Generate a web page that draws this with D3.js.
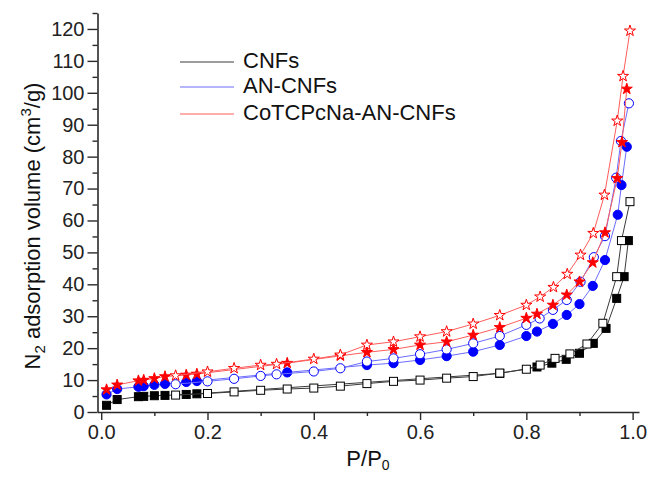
<!DOCTYPE html>
<html>
<head>
<meta charset="utf-8">
<script src="https://cdn.jsdelivr.net/npm/d3@7"></script>
<style>
  html, body { margin: 0; padding: 0; background: #fff; }
  svg { display: block; font-family: "Liberation Sans", Arial, sans-serif; }
</style>
</head>
<body>
<svg id="chart" width="649" height="477"></svg>
<script>
// ---------- data (P/P0, volume cm3/g) ----------
const seriesNames = ["CNFs", "AN-CNFs", "CoTCPcNa-AN-CNFs"];

const cnfFilledP = [0.01, 0.03, 0.07, 0.08, 0.10, 0.12, 0.16, 0.18, 0.75, 0.82, 0.848, 0.875, 0.90, 0.926, 0.95, 0.97, 0.984, 0.992];
const cnfFilledV = [2.1, 3.9, 4.8, 4.9, 5.1, 5.2, 5.5, 5.7, 12.1, 14.1, 15.3, 16.5, 18.4, 21.5, 26.2, 35.6, 42.4, 53.7];
const cnfOpenP = [0.14, 0.20, 0.25, 0.30, 0.35, 0.40, 0.45, 0.50, 0.55, 0.60, 0.65, 0.70, 0.75, 0.80, 0.826, 0.854, 0.882, 0.914, 0.944, 0.970, 0.979, 0.995];
const cnfOpenV = [5.3, 5.8, 6.3, 6.8, 7.2, 7.5, 8.1, 8.9, 9.6, 10.0, 10.6, 11.1, 12.2, 13.4, 14.7, 16.8, 18.2, 21.3, 27.8, 42.4, 53.7, 65.9];

const anFilledP = [0.01, 0.03, 0.07, 0.08, 0.10, 0.12, 0.16, 0.18, 0.35, 0.50, 0.55, 0.60, 0.65, 0.70, 0.75, 0.80, 0.82, 0.85, 0.876, 0.90, 0.925, 0.948, 0.972, 0.979, 0.989];
const anFilledV = [5.5, 7.2, 7.9, 8.1, 8.5, 8.8, 9.4, 9.7, 12.4, 14.7, 15.3, 16.3, 17.5, 18.9, 21.0, 23.8, 25.2, 27.6, 30.4, 33.8, 39.5, 47.6, 61.8, 71.1, 83.1];
const anOpenP = [0.14, 0.20, 0.25, 0.30, 0.33, 0.40, 0.45, 0.50, 0.55, 0.60, 0.65, 0.70, 0.75, 0.80, 0.825, 0.85, 0.876, 0.902, 0.927, 0.948, 0.969, 0.978, 0.993];
const anOpenV = [8.7, 9.6, 10.4, 11.3, 11.8, 12.7, 13.7, 15.8, 16.8, 18.1, 19.6, 21.5, 23.8, 27.3, 29.3, 32.0, 35.1, 40.8, 48.5, 55.1, 73.4, 84.9, 96.7];

const coFilledP = [0.01, 0.03, 0.07, 0.08, 0.10, 0.12, 0.16, 0.18, 0.35, 0.45, 0.50, 0.55, 0.60, 0.65, 0.70, 0.75, 0.80, 0.82, 0.85, 0.876, 0.90, 0.925, 0.948, 0.971, 0.980, 0.989];
const coFilledV = [7.0, 8.5, 9.8, 10.0, 10.5, 11.1, 11.6, 11.9, 15.3, 17.6, 18.7, 19.6, 21.0, 22.0, 24.1, 26.5, 29.4, 30.7, 33.5, 36.7, 40.8, 46.8, 56.2, 73.2, 84.5, 101.2];
const coOpenP = [0.14, 0.20, 0.25, 0.30, 0.33, 0.40, 0.45, 0.50, 0.55, 0.60, 0.65, 0.70, 0.75, 0.80, 0.826, 0.851, 0.877, 0.902, 0.926, 0.947, 0.971, 0.982, 0.995];
const coOpenV = [11.4, 12.6, 13.7, 14.7, 15.0, 16.6, 17.9, 21.0, 22.0, 23.6, 25.2, 27.6, 30.3, 33.5, 36.1, 39.1, 43.2, 49.2, 56.0, 68.0, 91.2, 105.2, 119.4];

const xMajorTicks = [0.0, 0.2, 0.4, 0.6, 0.8, 1.0];
const xMinorTicks = [0.1, 0.3, 0.5, 0.7, 0.9];
const yMajorTicks = [0, 10, 20, 30, 40, 50, 60, 70, 80, 90, 100, 110, 120];
const yMinorTicks = [5, 15, 25, 35, 45, 55, 65, 75, 85, 95, 105, 115, 125];

// ---------- build ----------
const zip = (ps, vs) => ps.map((p, i) => ({ p, v: vs[i] }));
const groups = [
  { name: seriesNames[0], shape: "square", filled: zip(cnfFilledP, cnfFilledV), open: zip(cnfOpenP, cnfOpenV), color: "#000000", line: "#3a3a3a" },
  { name: seriesNames[1], shape: "circle", filled: zip(anFilledP, anFilledV), open: zip(anOpenP, anOpenV), color: "#0000ff", line: "#6c6cff" },
  { name: seriesNames[2], shape: "star", filled: zip(coFilledP, coFilledV), open: zip(coOpenP, coOpenV), color: "#ff0000", line: "#ff5c5c" }
];

const svg = d3.select("#chart");
const x = d3.scaleLinear().domain([-0.007, 1.012]).range([97.5, 639]);
const y = d3.scaleLinear().domain([0, 125]).range([412, 13]);

const axisColor = "#2a2a2a";
const fontSize = 20;

// x axis
const gx = svg.append("g").attr("transform", `translate(0,${y(0)})`);
gx.call(d3.axisBottom(x).tickValues(xMajorTicks).tickSize(8).tickSizeOuter(0).tickPadding(5).tickFormat(d3.format(".1f")));
const gxm = svg.append("g").attr("transform", `translate(0,${y(0)})`);
gxm.call(d3.axisBottom(x).tickValues(xMinorTicks).tickSize(4).tickSizeOuter(0).tickFormat(""));
gxm.select(".domain").remove();

// y axis
const gy = svg.append("g").attr("transform", `translate(${x.range()[0]},0)`);
gy.call(d3.axisLeft(y).tickValues(yMajorTicks).tickSize(10).tickSizeOuter(0).tickPadding(3).tickFormat(d3.format("d")));
const gym = svg.append("g").attr("transform", `translate(${x.range()[0]},0)`);
gym.call(d3.axisLeft(y).tickValues(yMinorTicks).tickSize(5).tickSizeOuter(0).tickFormat(""));
gym.select(".domain").remove();

[gx, gxm, gy, gym].forEach(g => {
  g.selectAll("path.domain").attr("stroke", axisColor).attr("stroke-width", 1.6);
  g.selectAll(".tick line").attr("stroke", axisColor).attr("stroke-width", 1.4);
  g.selectAll(".tick text").attr("fill", "#222").style("font-size", fontSize + "px")
    .style("font-family", '"Liberation Sans", Arial, sans-serif');
});

// series
const line = d3.line().x(d => x(d.p)).y(d => y(d.v));
const star = d3.symbol().type(d3.symbolStar).size(38);

function drawMarkers(g, data, shape, fill, stroke) {
  const sel = g.selectAll(null).data(data).enter();
  if (shape === "square") {
    sel.append("rect")
      .attr("x", d => x(d.p) - 4).attr("y", d => y(d.v) - 4)
      .attr("width", 8).attr("height", 8)
      .attr("fill", fill).attr("stroke", stroke).attr("stroke-width", 1);
  } else if (shape === "circle") {
    sel.append("circle")
      .attr("cx", d => x(d.p)).attr("cy", d => y(d.v)).attr("r", 4.6)
      .attr("fill", fill).attr("stroke", stroke).attr("stroke-width", 1);
  } else {
    sel.append("path")
      .attr("d", star)
      .attr("transform", d => `translate(${x(d.p)},${y(d.v)})`)
      .attr("fill", fill).attr("stroke", stroke).attr("stroke-width", 1);
  }
}

groups.forEach(gr => {
  const g = svg.append("g");
  g.append("path").datum(gr.filled).attr("d", line)
    .attr("fill", "none").attr("stroke", gr.line).attr("stroke-width", 1);
  drawMarkers(g, gr.filled, gr.shape, gr.color, gr.color);
  g.append("path").datum(gr.open).attr("d", line)
    .attr("fill", "none").attr("stroke", gr.line).attr("stroke-width", 1);
  drawMarkers(g, gr.open, gr.shape, "#ffffff", gr.color);
});

// legend
const legendY = [62, 87, 114];
const legend = svg.append("g");
groups.forEach((gr, i) => {
  legend.append("line")
    .attr("x1", 180).attr("x2", 234).attr("y1", legendY[i]).attr("y2", legendY[i])
    .attr("stroke", gr.line).attr("stroke-width", 1);
  legend.append("text")
    .attr("x", 243).attr("y", legendY[i] + 6)
    .style("font-size", "22px").attr("fill", "#111")
    .text(gr.name);
});

// axis titles
const yt = svg.append("text")
  .attr("transform", "translate(40,226) rotate(-90)")
  .attr("text-anchor", "middle")
  .style("font-size", "22px").attr("fill", "#111");
yt.append("tspan").text("N");
yt.append("tspan").attr("dy", 5).style("font-size", "15px").text("2");
yt.append("tspan").attr("dy", -5).text(" adsorption volume (cm");
yt.append("tspan").attr("dy", -9).style("font-size", "15px").text("3");
yt.append("tspan").attr("dy", 9).text("/g)");

const xt = svg.append("text")
  .attr("x", 368).attr("y", 466)
  .attr("text-anchor", "middle")
  .style("font-size", "22px").attr("fill", "#111");
xt.append("tspan").text("P/P");
xt.append("tspan").attr("dy", 4).style("font-size", "14px").text("0");
</script>
</body>
</html>
